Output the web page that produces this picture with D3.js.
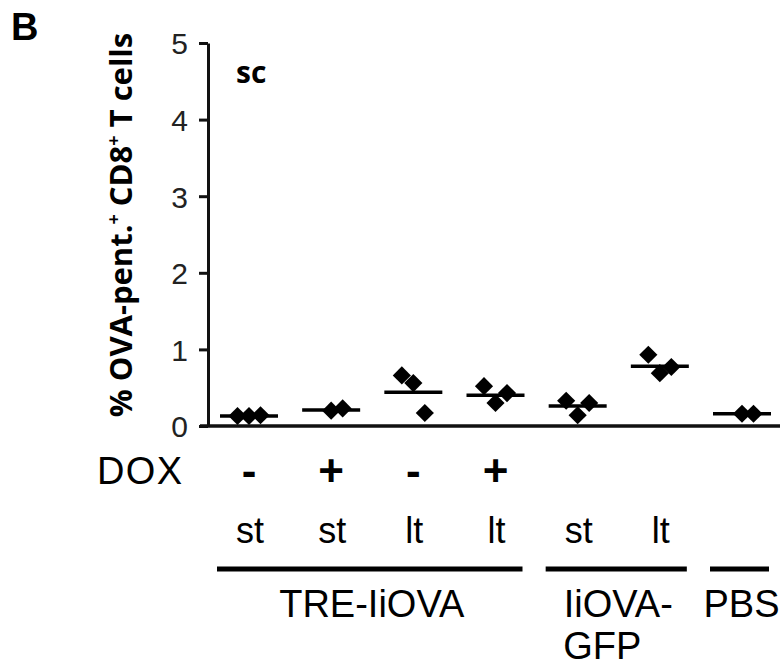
<!DOCTYPE html>
<html>
<head>
<meta charset="utf-8">
<script src="https://cdn.jsdelivr.net/npm/d3@7"></script>
<style>
  body { margin: 0; background: #fff; }
  svg { display: block; }
  .tick text { font-family: "Liberation Sans", Arial, sans-serif; font-size: 30px; fill: #222; }
</style>
</head>
<body>
<svg id="chart" width="781" height="671"></svg>
<script>
// groups along x, in plotting order
const groups = ["g1", "g2", "g3", "g4", "g5", "g6", "g7"]
const doxLabels = ["-", "+", "-", "+", "", "", ""]
const termLabels = ["st", "st", "lt", "lt", "st", "lt", ""]

// % OVA-pentamer+ of CD8+ T cells, one array per group
const values = [
  [0.13, 0.13, 0.14],
  [0.20, 0.23],
  [0.66, 0.56, 0.17],
  [0.52, 0.30, 0.43],
  [0.33, 0.14, 0.30],
  [0.93, 0.69, 0.77],
  [0.16, 0.16]
]
const means = [0.13, 0.21, 0.44, 0.40, 0.26, 0.78, 0.16]

// brackets under the x labels: [first group, last group, label lines]
const brackets = [
  [0, 3, ["TRE-IiOVA"]],
  [4, 5, ["IiOVA-", "GFP"]],
  [6, 6, ["PBS"]]
]

const yTicks = [0, 1, 2, 3, 4, 5]

const svg = d3.select("#chart")
const sans = "'Liberation Sans', Arial, sans-serif"
const bold = "'Open Sans', 'DejaVu Sans', sans-serif"

const y = d3.scaleLinear().domain([0, 5]).range([426, 43])
const x = d3.scalePoint().domain(groups).range([249, 742])

// y axis
const yAxis = d3.axisLeft(y).tickValues(yTicks).tickFormat(d3.format("d"))
  .tickSize(9).tickSizeOuter(0).tickPadding(11)
const yg = svg.append("g").attr("transform", "translate(208,0)").call(yAxis)
yg.select(".domain").attr("stroke", "#111").attr("stroke-width", 3)
yg.selectAll(".tick line").attr("stroke", "#111").attr("stroke-width", 3)
yg.selectAll(".tick text").attr("dy", "0.36em")

// baseline
svg.append("line")
  .attr("x1", 200).attr("x2", 780)
  .attr("y1", y(0)).attr("y2", y(0))
  .attr("stroke", "#111").attr("stroke-width", 3.5)

// mean lines
svg.selectAll(".mean")
  .data(means)
  .enter().append("line")
  .attr("class", "mean")
  .attr("x1", (d, i) => x(groups[i]) - 29)
  .attr("x2", (d, i) => x(groups[i]) + 29)
  .attr("y1", d => y(d)).attr("y2", d => y(d))
  .attr("stroke", "#000").attr("stroke-width", 3.5)

// points, spread sideways inside each column
const pts = []
values.forEach((vals, gi) => {
  const n = vals.length
  vals.forEach((v, i) => pts.push({ g: groups[gi], v, off: (i - Math.floor((n - 1) / 2)) * 11.5 }))
})
const diamond = d3.symbol().type(d3.symbolSquare).size(165)
svg.selectAll(".pt")
  .data(pts)
  .enter().append("path")
  .attr("class", "pt")
  .attr("d", diamond)
  .attr("transform", d => "translate(" + (x(d.g) + d.off) + "," + y(d.v) + ") rotate(45)")
  .attr("fill", "#000")

// y axis title
const title = svg.append("text")
  .attr("transform", "translate(132,225) rotate(-90)")
  .attr("text-anchor", "middle")
  .attr("font-family", bold).attr("font-weight", "bold").attr("font-size", 31)
title.append("tspan").text("% OVA-pent.")
title.append("tspan").text("+").attr("font-size", 18).attr("baseline-shift", "super")
title.append("tspan").text(" CD8")
title.append("tspan").text("+").attr("font-size", 18).attr("baseline-shift", "super")
title.append("tspan").text(" T cells")

// panel letter and site label
svg.append("text").attr("x", 11).attr("y", 40)
  .attr("font-family", sans).attr("font-weight", "bold").attr("font-size", 38).text("B")
svg.append("text").attr("x", 236).attr("y", 83)
  .attr("font-family", bold).attr("font-weight", "bold").attr("font-size", 30).text("sc")

// DOX row
svg.append("text").attr("x", 97).attr("y", 484)
  .attr("font-family", sans).attr("font-size", 38).attr("textLength", 85).text("DOX")
svg.selectAll(".dox")
  .data(doxLabels)
  .enter().append("text")
  .attr("class", "dox")
  .attr("x", (d, i) => x(groups[i]))
  .attr("y", 486)
  .attr("text-anchor", "middle")
  .attr("font-family", sans).attr("font-weight", "bold").attr("font-size", 44)
  .text(d => d)

// st / lt row
svg.selectAll(".term")
  .data(termLabels)
  .enter().append("text")
  .attr("class", "term")
  .attr("x", (d, i) => x(groups[i]) + 1)
  .attr("y", 543)
  .attr("text-anchor", "middle")
  .attr("font-family", sans).attr("font-size", 36)
  .text(d => d)

// brackets and their labels
brackets.forEach(([a, b, lines]) => {
  const x1 = x(groups[a]) - 32
  const x2 = x(groups[b]) + 27
  svg.append("line")
    .attr("x1", x1).attr("x2", x2).attr("y1", 569).attr("y2", 569)
    .attr("stroke", "#000").attr("stroke-width", 5)
  const t = svg.append("text")
    .attr("font-family", sans).attr("font-size", 38)
    .attr("text-anchor", "middle")
  lines.forEach((s, k) => {
    t.append("tspan").attr("x", (x1 + x2) / 2 + (k ? -14 : 2)).attr("y", 617 + k * 42).text(s)
  })
})
</script>
</body>
</html>
